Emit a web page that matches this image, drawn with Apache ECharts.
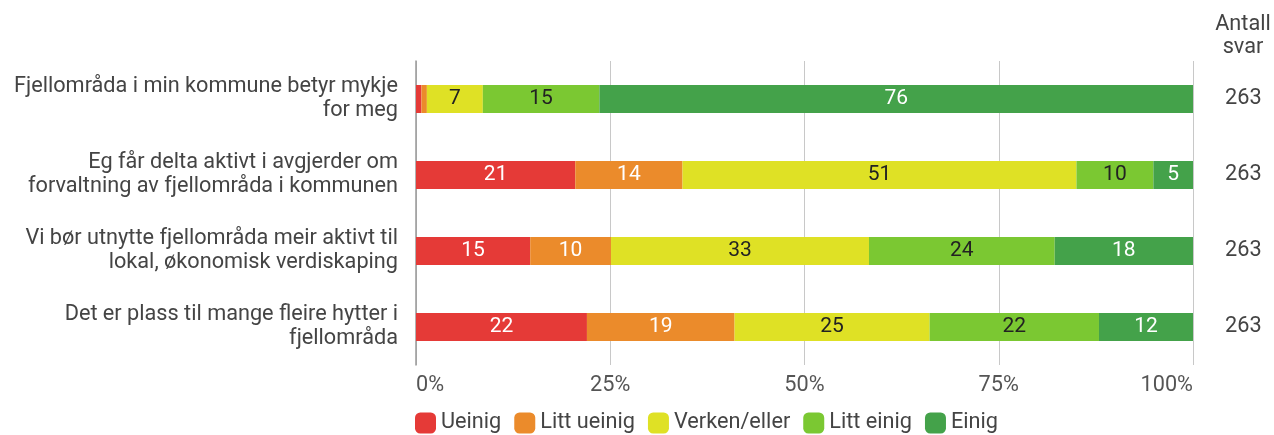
<!DOCTYPE html>
<html>
<head>
<meta charset="utf-8">
<script src="https://cdn.jsdelivr.net/npm/echarts@6/dist/echarts.min.js"></script>
<style>html,body{margin:0;padding:0;background:#fff}#c{width:1274px;height:435px}</style>
</head>
<body>
<div id="c"></div>
<script>
const categories = [
  "Fjellområda i min kommune betyr mykje\nfor meg",
  "Eg får delta aktivt i avgjerder om\nforvaltning av fjellområda i kommunen",
  "Vi bør utnytte fjellområda meir aktivt til\nlokal, økonomisk verdiskaping",
  "Det er plass til mange fleire hytter i\nfjellområda"
];
const seriesNames = ["Ueinig", "Litt ueinig", "Verken/eller", "Litt einig", "Einig"];
const ueinig = [0.7, 20.5, 14.7, 22.0];
const littUeinig = [0.7, 13.8, 10.4, 19.0];
const verken = [7.2, 50.7, 33.2, 25.1];
const littEinig = [15.0, 9.9, 23.9, 21.8];
const einig = [76.4, 5.1, 17.8, 12.1];
const antallSvar = [263, 263, 263, 263];
const xTicks = [0, 25, 50, 75, 100];
const rightHeader = "Antall\nsvar";

const colors = ["#E53A37", "#EB8B2B", "#DFE125", "#7BC832", "#44A24A"];
const labelColors = ["#ffffff", "#ffffff", "#222222", "#222222", "#ffffff"];
const allData = [ueinig, littUeinig, verken, littEinig, einig];
const FS = 21.7;
const TXT = '#444';

const series = seriesNames.map((name, i) => ({
  name: name,
  type: 'bar',
  stack: 'total',
  barWidth: 28,
  yAxisIndex: 0,
  itemStyle: { color: colors[i] },
  label: {
    show: true,
    position: 'inside',
    color: labelColors[i],
    fontSize: 21,
    fontFamily: 'Roboto',
    formatter: p => p.value < 3 ? '' : Math.round(p.value)
  },
  emphasis: { disabled: true },
  data: allData[i]
}));

const chart = echarts.init(document.getElementById('c'), null, { renderer: 'canvas' });
chart.setOption({
  animation: false,
  textStyle: { fontFamily: 'Roboto' },
  color: colors,
  graphic: [{
    type: 'text',
    x: 1243,
    y: 13,
    style: {
      text: rightHeader,
      fill: TXT,
      font: FS + 'px Roboto',
      align: 'center',
      lineHeight: 23
    }
  }],
  grid: { left: 416, right: 81, top: 61, bottom: 70, containLabel: false },
  legend: {
    left: 410,
    top: 407,
    itemWidth: 21,
    itemHeight: 21,
    itemGap: 13,
    icon: 'roundRect',
    textStyle: { fontFamily: 'Roboto', fontSize: FS, color: TXT },
    data: seriesNames
  },
  xAxis: {
    type: 'value',
    min: 0,
    max: 100,
    interval: 25,
    axisLine: { show: false },
    axisTick: { show: false },
    splitLine: { show: true, lineStyle: { color: '#c8c8c8', width: 1 } },
    axisLabel: {
      fontFamily: 'Roboto', fontSize: FS, color: '#555', margin: 10,
      alignMinLabel: 'left', alignMaxLabel: 'right',
      formatter: v => xTicks.includes(v) ? v + '%' : ''
    }
  },
  yAxis: [
    {
      type: 'category',
      data: categories,
      inverse: true,
      axisLine: { show: true, lineStyle: { color: '#999', width: 1.5 } },
      axisTick: { show: false },
      axisLabel: {
        fontFamily: 'Roboto', fontSize: FS, color: TXT, margin: 18,
        lineHeight: 24, align: 'right'
      }
    },
    {
      type: 'category',
      data: antallSvar,
      inverse: true,
      position: 'right',
      axisLine: { show: false },
      axisTick: { show: false },
      axisLabel: { fontFamily: 'Roboto', fontSize: FS, color: TXT, margin: 32 }
    }
  ],
  series: series
});
</script>
</body>
</html>
